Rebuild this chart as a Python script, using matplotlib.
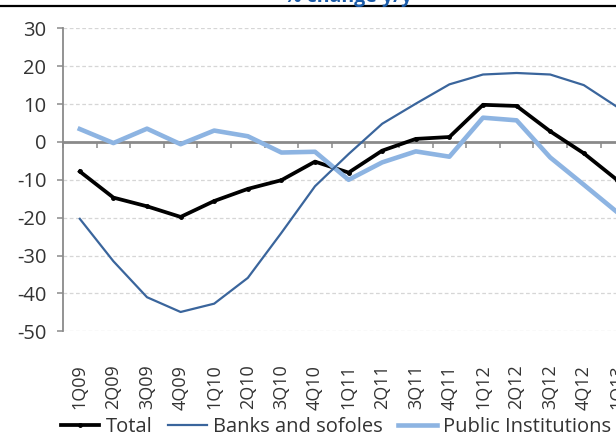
import numpy as np
import matplotlib
matplotlib.use("Agg")
import matplotlib.pyplot as plt
from matplotlib.lines import Line2D

# quarters on the category axis
quarters = ["1Q09", "2Q09", "3Q09", "4Q09", "1Q10", "2Q10", "3Q10", "4Q10",
            "1Q11", "2Q11", "3Q11", "4Q11", "1Q12", "2Q12", "3Q12", "4Q12", "1Q13"]

# % change y/y
total = [-7.8, -14.7, -17.0, -19.8, -15.6, -12.4, -10.1, -5.2,
         -8.1, -2.3, 0.8, 1.3, 9.8, 9.5, 2.8, -3.0, -10.1]
banks = [-20.3, -31.5, -41.0, -44.9, -42.7, -35.9, -24.0, -11.7,
         -3.2, 4.8, 10.1, 15.2, 17.8, 18.2, 17.8, 15.0, 9.2]
public = [3.4, -0.3, 3.5, -0.6, 3.0, 1.5, -2.8, -2.6,
          -10.0, -5.4, -2.5, -3.9, 6.4, 5.7, -4.1, -11.3, -18.6]

yticks = [30, 20, 10, 0, -10, -20, -30, -40, -50]

plt.rcParams['font.family'] = ['Open Sans', 'DejaVu Sans']
plt.rcParams['axes.unicode_minus'] = False
txt = '#333333'
axcol = '#8a8a8a'
fs = 14.5

fig = plt.figure(figsize=(6.16, 4.36), dpi=100)
ax = fig.add_axes([63/616, 1 - 331.3/436, 17*33.6/616, (331.3 - 28.3)/436])

x = np.arange(len(quarters))
ax.plot(x, total, color='black', lw=2.7, marker='o', ms=2.5, label='Total', zorder=3)
ax.plot(x, public, color='#8db4e2', lw=3.3, label='Public Institutions', zorder=4)
ax.plot(x, banks, color='#3a659c', lw=1.6, label='Banks and sofoles', zorder=5)

ax.set_xlim(-0.5, len(quarters) - 0.5)
ax.set_ylim(-50, 30)

# dashed gridlines (zero line is the category axis)
for v in yticks:
    if v != 0:
        ax.axhline(v, ls=(0, (3, 2)), color='#d6d6d6', lw=0.9, zorder=1)

ax.set_yticks(yticks)
for s in ['top', 'right', 'bottom']:
    ax.spines[s].set_visible(False)
ax.spines['left'].set_color(axcol)
ax.spines['left'].set_linewidth(1.3)
ax.tick_params(axis='y', length=4, width=1.1, color=axcol, labelsize=fs,
               labelcolor=txt, pad=8)

# category labels at the bottom
ax.set_xticks(x)
ax.set_xticklabels(quarters, rotation=90, fontsize=13, color=txt)
ax.tick_params(axis='x', length=0, pad=24)

# category axis crossing at zero with boundary ticks
sec = ax.secondary_xaxis(0.625)
sec.set_xticks(np.arange(len(quarters) + 1) - 0.5, labels=[])
for s in ['top', 'bottom']:
    sec.spines[s].set_color(axcol)
    sec.spines[s].set_linewidth(2)
sec.tick_params(axis='x', which='both', length=4.5, width=1.1, color=axcol,
                direction='in', labeltop=False, labelbottom=False)

# title (cut off at top) and rule
fig.text(348/616, 1 - 2/436, '% change y/y', ha='center', va='baseline',
         fontsize=14, fontweight='bold', color='#1a5aa8')
fig.add_artist(Line2D([0, 1], [1 - 6/436, 1 - 6/436], color='black', lw=1.6))

h, l = ax.get_legend_handles_labels()
order = [0, 2, 1]
fig.legend([h[i] for i in order], [l[i] for i in order], loc='center',
           bbox_to_anchor=(336/616, 1 - 427/436), ncol=3, frameon=False,
           fontsize=fs, handlelength=1.9, handletextpad=0.3, columnspacing=0.8,
           labelcolor=txt)

fig.savefig('out.png', dpi=100)
